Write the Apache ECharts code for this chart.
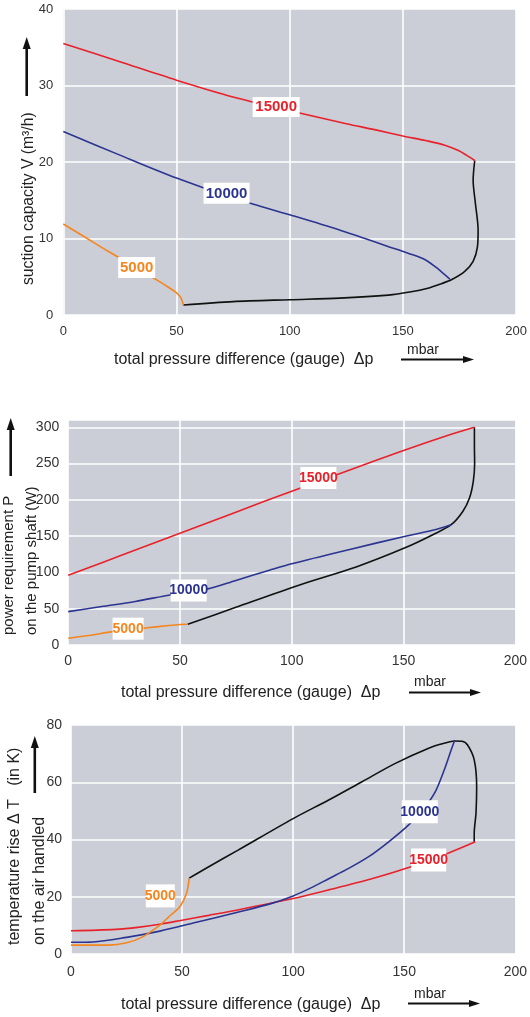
<!DOCTYPE html>
<html><head><meta charset="utf-8">
<script src="https://cdn.jsdelivr.net/npm/echarts@6/dist/echarts.min.js"></script>
<style>html,body{margin:0;padding:0;background:#fff}#c{width:530px;height:1017px}</style>
</head><body><div id="c"></div>
<script>
// ---- axis ticks ----
const pressureTicks = [0, 50, 100, 150, 200];
const suctionTicks = [0, 10, 20, 30, 40];
const powerTicks = [0, 50, 100, 150, 200, 250, 300];
const tempTicks = [0, 20, 40, 60, 80];

// ---- chart 1: suction capacity (m3/h) vs pressure (mbar) ----
const suction15000 = [[0,35.5],[25,33.1],[50,30.7],[75,28.5],[100,26.7],[125,25.0],[138,24.2],[150,23.4],[160,22.8],[168.5,22.2],[174.5,21.5],[178,20.9],[181.7,20.2]];
const suction10000 = [[0,24.0],[25,20.9],[50,17.9],[75,15.3],[100,13.1],[122,11.1],[144,8.9],[152,8.1],[160,7.2],[166,5.9],[170.7,4.7]];
const suction5000 = [[0,11.9],[10,10.1],[20,8.3],[30,6.6],[40,4.8],[45,3.9],[50,2.9],[52,2.2],[53,1.3]];
const suctionLimit = [[53,1.3],[75,1.75],[100,2.0],[122,2.2],[143.6,2.6],[153,3.0],[161,3.5],[167,4.1],[171.4,4.6],[177.3,5.7],[181,7.0],[182.9,8.9],[183.2,11.1],[182,14.6],[181,17.6],[181.7,20.2]];

// ---- chart 2: power requirement (W) vs pressure (mbar) ----
const power15000 = [[0,96],[25,125],[50,154],[75,183],[100,212],[125,240],[150,268],[170,289],[181.7,300]];
const power10000 = [[0,46],[15,53],[30,60],[45.5,69],[62,77],[75,89],[90,103],[100,112],[125,131],[150.4,149.5],[163,158],[171.3,165.7]];
const power5000 = [[0,9.2],[10,13.5],[20,18.4],[33.5,23.0],[45,26.8],[50,28.2],[53.5,28.5]];
const powerLimit = [[53.5,28.5],[75,52],[103.5,82.8],[128.8,107.5],[150.4,133.5],[163.1,151.9],[171.3,165.7],[176.5,184],[179.5,202.5],[181.2,225.5],[181.8,250],[181.7,275],[181.7,300]];

// ---- chart 3: temperature rise (K) vs pressure (mbar) ----
const temp15000 = [[0,8.1],[20,8.6],[30,9.3],[40,10.4],[50,11.8],[62,13.5],[75,15.4],[100,19.4],[116,22.4],[135,26.2],[153,30.5],[170,35.3],[182,39.2]];
const temp10000 = [[0,4.1],[10,4.2],[25,5.8],[40,8.0],[55,10.8],[75,14.6],[90,17.6],[100,20.3],[108,23.1],[116,26.3],[125,29.9],[134,34.0],[143,39.2],[152,45.1],[159,51],[164,56.7],[168,64.3],[171,71],[172.6,74.4]];
const temp5000 = [[0,3.1],[17,3.1],[25,3.9],[32,5.9],[40,10.1],[44,13.0],[49,16.5],[52,21.2],[53.2,26.5]];
const tempLimit = [[53.2,26.5],[62,30.5],[75,36.2],[100,47.3],[116,53.8],[131,60.2],[146,66.6],[161,71.9],[168,73.6],[172.6,74.4],[176,74.3],[178.5,73],[181.5,67.8],[182.6,58.4],[182.3,49.2],[181.5,42.2],[181.5,39.2]];

const RED = '#e8212b', BLUE = '#2b3591', ORANGE = '#f5861f', BLACK = '#111';
const FONT = '"Liberation Sans", Arial, sans-serif';
const NARROW = '"Liberation Sans Narrow", "Liberation Sans", Arial, sans-serif';
const GRAY = '#cbced6';

const chart = echarts.init(document.getElementById('c'), null, {renderer: 'canvas'});

function xAxis(gi, fs, margin) {
  return {
    type: 'value', gridIndex: gi,
    min: pressureTicks[0], max: pressureTicks[pressureTicks.length-1],
    interval: pressureTicks[1]-pressureTicks[0],
    axisLine: {show:false}, axisTick: {show:false},
    axisLabel: {color:'#333', fontSize: fs, fontFamily: FONT, margin: margin},
    splitLine: {show:true, lineStyle:{color:'#fff', width:1.6}}
  };
}
function yAxis(gi, ticks, max, fs, margin) {
  return {
    type: 'value', gridIndex: gi,
    min: ticks[0], max: max, interval: ticks[1]-ticks[0],
    axisLine: {show:false}, axisTick: {show:false},
    axisLabel: {color:'#333', fontSize: fs, fontFamily: FONT, margin: margin,
      formatter: v => ticks.indexOf(v) >= 0 ? String(v) : ''},
    splitLine: {show:true, lineStyle:{color:'#fff', width:1.6}}
  };
}
function tag(coord, text, color, w, h, fs, family) {
  return {
    coord: coord, value: text, symbol: 'rect', symbolSize: [w, h],
    itemStyle: {color: '#fff'},
    label: {show: true, position: 'inside', formatter: text, color: color,
      fontWeight: 'bold', fontSize: fs, fontFamily: family}
  };
}
function line(gi, data, color, mark) {
  const s = {
    type: 'line', xAxisIndex: gi, yAxisIndex: gi, data: data,
    showSymbol: false, smooth: 0.3, silent: true,
    lineStyle: {color: color, width: 1.6}, z: 3
  };
  if (mark) s.markPoint = {silent: true, data: [mark], z: 5};
  return s;
}

function arrowH(x1, x2, y) {
  return [
    {type:'line', shape:{x1:x1, y1:y, x2:x2-9, y2:y}, style:{stroke:'#111', lineWidth:2}},
    {type:'polygon', shape:{points:[[x2,y],[x2-11,y-3.5],[x2-11,y+3.5]]}, style:{fill:'#111'}}
  ];
}
function arrowV(x, yTail, yTip) {
  return [
    {type:'line', shape:{x1:x, y1:yTail, x2:x, y2:yTip+9}, style:{stroke:'#111', lineWidth:2.6}},
    {type:'polygon', shape:{points:[[x,yTip],[x-4,yTip+12],[x+4,yTip+12]]}, style:{fill:'#111'}}
  ];
}
function txt(x, y, text, size, rot, align) {
  return {type:'text', x:x, y:y, rotation: rot || 0,
    style:{text:text, font: size + 'px ' + FONT, fill:'#222',
      textAlign: align || 'left', textVerticalAlign:'middle', align: align || 'left', verticalAlign:'middle'}};
}
const XTITLE = 'total pressure difference (gauge)  \u0394p';

const graphics = [].concat(
  // chart 1
  [txt(114, 360, XTITLE, 16), txt(407, 350, 'mbar', 14)], arrowH(401, 474, 359.5),
  [txt(29, 285, 'suction capacity V (m\u00b3/h)', 15.7, Math.PI/2)], arrowV(26.7, 96, 37),
  // chart 2
  [txt(121, 693, XTITLE, 16), txt(414, 682, 'mbar', 14)], arrowH(409, 481, 692.5),
  [txt(9, 635, 'power requirement P', 15, Math.PI/2), txt(32, 635, 'on the pump shaft (W)', 15, Math.PI/2)], arrowV(10.7, 476, 418),
  // chart 3
  [txt(121, 1005, XTITLE, 16), txt(414, 994, 'mbar', 14)], arrowH(408, 480, 1003.5),
  [txt(15, 945, 'temperature rise \u0394 T   (in K)', 16, Math.PI/2), txt(40, 945, 'on the air handled', 16, Math.PI/2)], arrowV(34.8, 793, 736)
);

const option = {
  animation: false,
  backgroundColor: '#fff',
  grid: [
    {left: 63.3, top: 9, width: 455, height: 306, show: true, backgroundColor: GRAY, borderWidth: 0},
    {left: 68.2, top: 420, width: 447.8, height: 225, show: true, backgroundColor: GRAY, borderWidth: 0},
    {left: 71, top: 725, width: 446.5, height: 229, show: true, backgroundColor: GRAY, borderWidth: 0}
  ],
  xAxis: [xAxis(0, 13, 10), xAxis(1, 14, 9), xAxis(2, 14, 11)],
  yAxis: [
    yAxis(0, suctionTicks, 40, 13, 10),
    yAxis(1, powerTicks, 310, 14, 9),
    yAxis(2, tempTicks, 80, 14, 9)
  ],
  series: [
    line(0, suctionLimit, BLACK),
    line(0, suction15000, RED, tag([94, 27.2], '15000', RED, 47, 20, 15, FONT)),
    line(0, suction10000, BLUE, tag([72.1, 15.9], '10000', BLUE, 46, 21, 15, FONT)),
    line(0, suction5000, ORANGE, tag([32.4, 6.2], '5000', ORANGE, 37, 21, 15, FONT)),

    line(1, powerLimit, BLACK),
    line(1, power15000, RED, tag([111.9, 230.2], '15000', RED, 36, 22, 14, NARROW)),
    line(1, power10000, BLUE, tag([53.9, 75.2], '10000', BLUE, 36, 22, 14, NARROW)),
    line(1, power5000, ORANGE, tag([26.8, 22.5], '5000', ORANGE, 31, 22, 14, NARROW)),

    line(2, tempLimit, BLACK),
    line(2, temp15000, RED, tag([161.0, 32.8], '15000', RED, 35, 23, 14, NARROW)),
    line(2, temp10000, BLUE, tag([157.0, 49.7], '10000', BLUE, 36, 23, 14, NARROW)),
    line(2, temp5000, ORANGE, tag([40.2, 20.3], '5000', ORANGE, 29, 23, 14, NARROW))
  ],
  graphic: graphics
};
chart.setOption(option);
</script>
</body></html>
